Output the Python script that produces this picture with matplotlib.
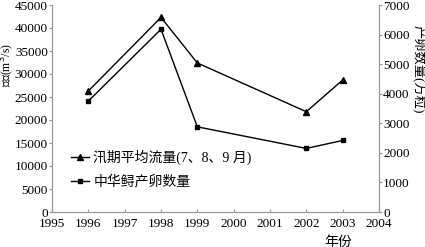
import matplotlib.pyplot as plt

plt.rcParams['font.family'] = ['Liberation Serif', 'Noto Sans CJK SC']

years = [1996, 1998, 1999, 2002, 2003]
flow = [26300, 42300, 32400, 21800, 28700]       # m3/s, left axis
eggs = [3750, 6180, 2880, 2150, 2420]            # 万粒, right axis
xticks = list(range(1995, 2005))

grey = '#999999'
fig = plt.figure(figsize=(4.25, 2.47), dpi=100)
ax = fig.add_axes([52/425, 35/247, 327/425, 207/247])
ax2 = ax.twinx()

l1, = ax.plot(years, flow, color='black', lw=1, marker='^', ms=4,
              label='汛期平均流量(7、8、9 月)')
l2, = ax2.plot(years, eggs, color='black', lw=1, marker='s', ms=3.5,
               label='中华鲟产卵数量')

ax.set_xlim(1995, 2004)
ax.set_ylim(0, 45000)
ax2.set_ylim(0, 7000)
ax.set_xticks(xticks)
ax.set_yticks(range(0, 45001, 5000))
ax2.set_yticks(range(0, 7001, 1000))

for a in (ax, ax2):
    a.spines['top'].set_visible(False)
    for s in ('left', 'right', 'bottom'):
        a.spines[s].set_color(grey)
    a.tick_params(colors=grey, labelcolor='black', labelsize=9.5, length=2.5)
ax.tick_params(axis='x', direction='in', pad=4)
ax.tick_params(axis='y', pad=0.5)
ax2.tick_params(axis='y', pad=0.5)

ax.set_ylabel('流量(m$^3$/s)', fontsize=8.5, va='center')
ax.yaxis.set_label_coords(-0.135, 0.71)
ax2.set_ylabel('产卵数量(万粒)', fontsize=9.5, rotation=-90, va='center')
ax2.yaxis.set_label_coords(1.12, 0.69)
ax.set_xlabel('年份', fontsize=10, va='center')
ax.xaxis.set_label_coords(0.875, -0.145)

ax.legend(handles=[l1, l2], loc='upper left', bbox_to_anchor=(0.02, 0.36),
          frameon=False, fontsize=10, handlelength=1.3, handletextpad=0.3,
          labelspacing=0.7)

fig.savefig('out.png', dpi=100)
